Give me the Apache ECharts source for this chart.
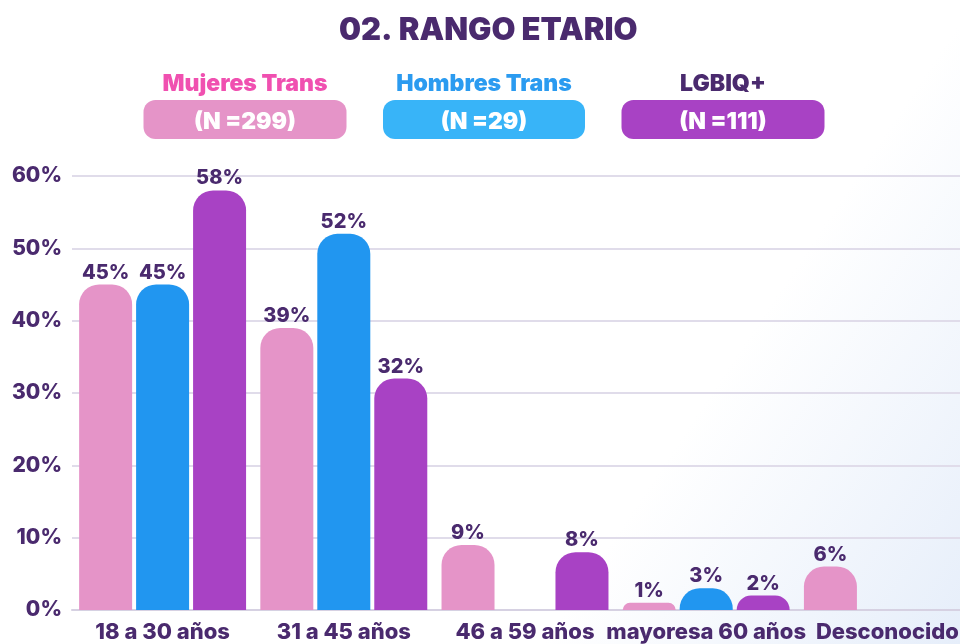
<!DOCTYPE html>
<html>
<head>
<meta charset="utf-8">
<script src="https://cdn.jsdelivr.net/npm/echarts@6/dist/echarts.min.js"></script>
<style>
  html, body { margin: 0; padding: 0; background: #fff; }
  #main { width: 960px; height: 644px; }
</style>
</head>
<body>
<div id="main"></div>
<script>
// ---- datos ----
var categorias = ["18 a 30 años", "31 a 45 años", "46 a 59 años", "mayoresa 60 años", "Desconocido"];
var grupos = ["Mujeres Trans", "Hombres Trans", "LGBIQ+"];
var muestras = ["(N =299)", "(N =29)", "(N =111)"];
var mujeresTrans = [45, 39, 9, 1, 6];
var hombresTrans = [45, 52, null, 3, null];
var lgbiq = [58, 32, 8, 2, null];
var ticksY = [0, 10, 20, 30, 40, 50, 60];

var textoOscuro = "#4a2a6e";
var colores = ["#e594c8", "#2196f0", "#a842c4"];
var coloresCaja = ["#e594c8", "#38b4f8", "#a842c4"];
var coloresTitulo = ["#f050b0", "#2b9bf0", "#4a2a6e"];
var fuente = "Inter, 'Noto Sans', sans-serif";

var chart = echarts.init(document.getElementById("main"));

function serie(nombre, datos, color) {
    return {
        name: nombre, type: "bar", data: datos,
        barWidth: 53, barGap: "7.5%",
        itemStyle: { color: color, borderRadius: [20, 20, 0, 0] },
        label: {
            show: true, position: "top", distance: 2,
            formatter: "{c}%", color: textoOscuro,
            fontFamily: fuente, fontWeight: 800, fontSize: 20,
        },
    };
}

// ---- leyenda dibujada ----
var cajas = [
    { cx: 245, w: 203 },
    { cx: 484, w: 202 },
    { cx: 723, w: 203 },
];
var graficos = [];
grupos.forEach(function (g, i) {
    var c = cajas[i];
    graficos.push({
        type: "text", x: c.cx, y: 73,
        style: {
            text: g, fill: coloresTitulo[i], font: "900 23px " + fuente,
            textAlign: "center",
        },
    });
    graficos.push({
        type: "rect", x: c.cx - c.w / 2, y: 100,
        shape: { width: c.w, height: 39, r: 12 },
        style: { fill: coloresCaja[i] },
    });
    graficos.push({
        type: "text", x: c.cx, y: 111,
        style: {
            text: muestras[i], fill: "#ffffff", font: "900 23px " + fuente,
            textAlign: "center",
        },
    });
});

chart.setOption({
    backgroundColor: new echarts.graphic.LinearGradient(0, 0, 1, 1, [
        { offset: 0, color: "#ffffff" },
        { offset: 0.7, color: "#ffffff" },
        { offset: 1, color: "#e6eefa" },
    ]),
    title: {
        text: "02. RANGO ETARIO", left: 334, top: 10,
        textStyle: { color: textoOscuro, fontFamily: fuente, fontWeight: 900, fontSize: 31 },
    },
    graphic: graficos,
    grid: { left: 72, width: 906, top: 176, height: 434, outerBoundsMode: "none", containLabel: false },
    xAxis: {
        type: "category", data: categorias,
        axisLine: { lineStyle: { color: "#d6d1e2", width: 2 } },
        axisTick: { show: false },
        axisLabel: {
            color: textoOscuro, fontFamily: fuente, fontWeight: 800, fontSize: 22,
            margin: 11, interval: 0,
        },
    },
    yAxis: {
        type: "value", min: ticksY[0], max: ticksY[ticksY.length - 1], interval: 10,
        axisLabel: {
            formatter: "{value}%", color: textoOscuro, fontFamily: fuente,
            fontWeight: 800, fontSize: 21, margin: 10,
        },
        splitLine: { lineStyle: { color: "#e0dcea", width: 2 } },
    },
    series: [
        serie(grupos[0], mujeresTrans, colores[0]),
        serie(grupos[1], hombresTrans, colores[1]),
        serie(grupos[2], lgbiq, colores[2]),
    ],
});
</script>
</body>
</html>
